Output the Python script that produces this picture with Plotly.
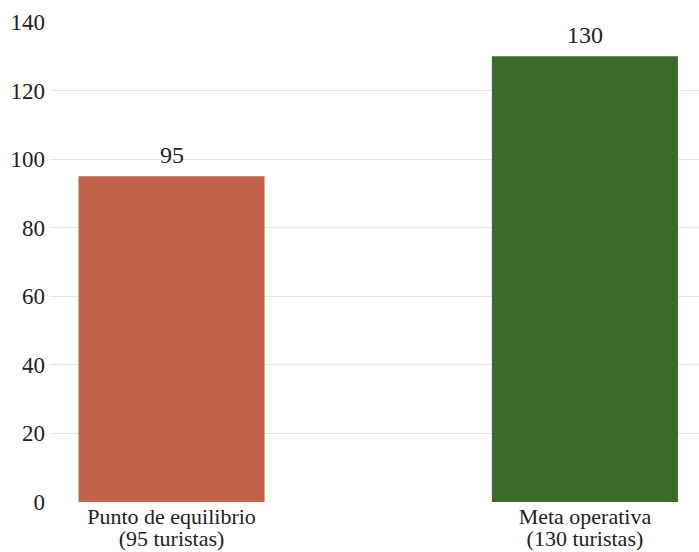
import plotly.graph_objects as go

cat_line1 = ["Punto de equilibrio", "Meta operativa"]
cat_line2 = ["(95 turistas)", "(130 turistas)"]
values = [95, 130]
colors = ["#C0634A", "#3B6B2B"]
tick_vals = [0, 20, 40, 60, 80, 100, 120, 140]

categories = [f'<span style="font-size:22px">{a}</span><br><span style="font-size:22px">{b}</span>'
              for a, b in zip(cat_line1, cat_line2)]
xpos = list(range(len(values)))

fig = go.Figure(go.Bar(
    x=xpos, y=values, width=0.45,
    marker=dict(color=colors, line=dict(width=0)),
    hoverinfo="y",
))
for xi, v in zip(xpos, values):
    fig.add_annotation(x=xi, y=v, xref="x", yref="y", text=str(v), showarrow=False,
                       yanchor="bottom", yshift=6,
                       font=dict(family="Liberation Serif", size=24, color="#222"))
fig.update_layout(
    width=699, height=552,
    margin=dict(l=50, r=0, t=22, b=50),
    plot_bgcolor="white", paper_bgcolor="white",
    font=dict(family="Liberation Serif", size=22, color="#222"),
    showlegend=False,
    xaxis=dict(tickvals=xpos, ticktext=categories, range=[-0.294, 1.276],
               showgrid=False, zeroline=False, showline=False, automargin=False,
               ticklabelstandoff=4, tickfont=dict(size=17)),
    yaxis=dict(range=[0, 140], tickvals=tick_vals, gridcolor="#e5e5e5",
               zeroline=False, showline=False, ticks="", automargin=False,
               ticklabelstandoff=4, tickfont=dict(size=23)),
)
fig.write_html("out.html", config={"displayModeBar": False},
               post_script="document.body.style.margin='0';document.body.style.overflow='hidden';")
